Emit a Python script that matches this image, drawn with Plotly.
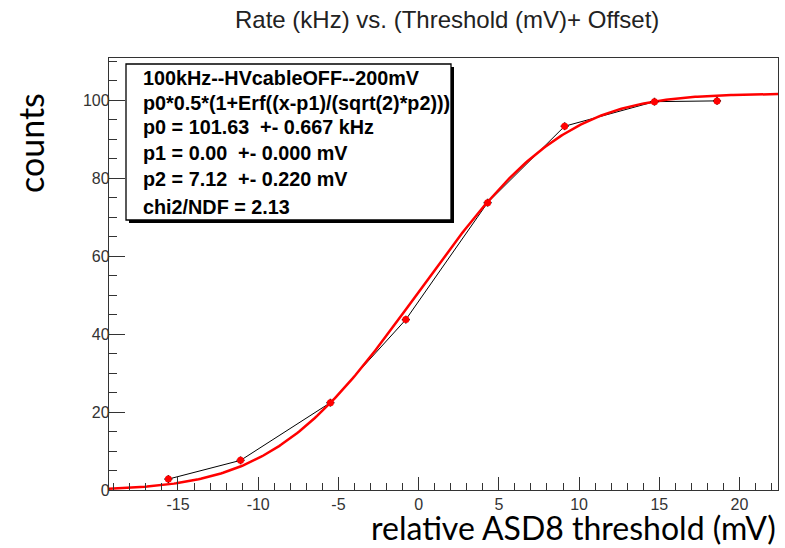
import math
import plotly.graph_objects as go

# ---- data ----
threshold_mv = [-15.6, -11.1, -5.5, -0.8, 4.3, 9.1, 14.7, 18.6]
rate_khz = [2.8, 7.6, 22.4, 43.7, 73.7, 93.3, 99.6, 99.8]
err_x = [0.25] * 8
err_y = [1.0] * 8

fit_p0 = 101.63
fit_p1 = 0.00
fit_p2 = 7.12
x_range = [-19.3, 22.4]
y_range = [0, 110.8]

x_tick_vals = [-15, -10, -5, 0, 5, 10, 15, 20]
x_tick_text = ["-15", "-10", "-5", "0", "5", "10", "15", "20"]
y_tick_vals = [0, 20, 40, 60, 80, 100]
y_tick_text = ["0", "20", "40", "60", "80", "100"]

box_lines = [
    "100kHz--HVcableOFF--200mV",
    "p0*0.5*(1+Erf((x-p1)/(sqrt(2)*p2)))",
    "p0 = 101.63  +- 0.667 kHz",
    "p1 = 0.00  +- 0.000 mV",
    "p2 = 7.12  +- 0.220 mV",
    "chi2/NDF = 2.13",
]

# fit curve evaluated from the displayed fit parameters
n = 300
fit_x = [x_range[0] + (x_range[1] - x_range[0]) * i / (n - 1) for i in range(n)]
fit_y = [fit_p0 * 0.5 * (1 + math.erf((x - fit_p1) / (math.sqrt(2) * fit_p2))) for x in fit_x]

W, H = 785, 548
L, R, T, B = 109, 778, 58, 490


def px(x):
    return (x - L) / (R - L)


def py(y):
    return (B - y) / (B - T)


fig = go.Figure()
fig.add_trace(go.Scatter(x=threshold_mv, y=rate_khz, mode="lines",
                         line=dict(color="black", width=1), hoverinfo="skip"))
fig.add_trace(go.Scatter(x=fit_x, y=fit_y, mode="lines",
                         line=dict(color="#ff0000", width=2.5), hoverinfo="skip"))
fig.add_trace(go.Scatter(x=threshold_mv, y=rate_khz, mode="markers",
                         marker=dict(color="#ff0000", size=7, symbol="circle"),
                         error_x=dict(type="data", array=err_x, color="black", thickness=1.5, width=0),
                         error_y=dict(type="data", array=err_y, color="black", thickness=1.5, width=0)))

axis_common = dict(showgrid=False, zeroline=False, showline=True, linecolor="#333",
                   linewidth=1.3, mirror=True, ticks="inside", tickcolor="#333",
                   tickfont=dict(family="Liberation Sans", size=16, color="#333"))

fig.update_xaxes(range=x_range, tickmode="array", tickvals=x_tick_vals, ticktext=x_tick_text,
                 ticklen=13, tickwidth=1.3,
                 minor=dict(dtick=1, tick0=0, ticklen=7, ticks="inside", tickcolor="#333", tickwidth=1.3),
                 **axis_common)
fig.update_yaxes(range=y_range, tickmode="array", tickvals=y_tick_vals, ticktext=y_tick_text,
                 ticklen=16, tickwidth=1.3, ticklabelstandoff=-5,
                 minor=dict(dtick=5, tick0=0, ticklen=8, ticks="inside", tickcolor="#333", tickwidth=1.3),
                 **axis_common)

# stats box with shadow
bx0, by0, bx1, by1 = 126, 64, 451, 220
fig.add_shape(type="rect", xref="paper", yref="paper",
              x0=px(bx0 + 3), x1=px(bx1 + 3), y0=py(by0 + 3), y1=py(by1 + 3),
              fillcolor="black", line=dict(width=0), layer="above")
fig.add_shape(type="rect", xref="paper", yref="paper",
              x0=px(bx0), x1=px(bx1), y0=py(by0), y1=py(by1),
              fillcolor="white", line=dict(color="black", width=1.3), layer="above")
line_ys = [78, 103, 127, 153, 179, 207]
for txt, yy in zip(box_lines, line_ys):
    fig.add_annotation(xref="paper", yref="paper", x=px(141), y=py(yy), text="<b>" + txt + "</b>",
                       showarrow=False, xanchor="left", yanchor="middle",
                       font=dict(family="Liberation Sans", size=19.8, color="black"))

# title
fig.add_annotation(xref="paper", yref="paper", x=px(447), y=py(20),
                   text="Rate (kHz) vs. (Threshold (mV)+ Offset)", showarrow=False,
                   xanchor="center", yanchor="middle",
                   font=dict(family="Liberation Sans", size=24, color="#222"))
# axis titles
fig.add_annotation(xref="paper", yref="paper", x=px(30), y=py(143), text="counts",
                   showarrow=False, textangle=-90, xanchor="center", yanchor="middle",
                   font=dict(family="Lato", size=34, color="black"))
fig.add_annotation(xref="paper", yref="paper", x=px(778), y=py(527),
                   text="relative ASD8 threshold (mV)", showarrow=False,
                   xanchor="right", yanchor="middle",
                   font=dict(family="Lato", size=32, color="black"))

fig.update_layout(width=W, height=H, margin=dict(l=L, r=W - R, t=T, b=H - B),
                  paper_bgcolor="white", plot_bgcolor="white", showlegend=False)

fig.write_html("out.html")
